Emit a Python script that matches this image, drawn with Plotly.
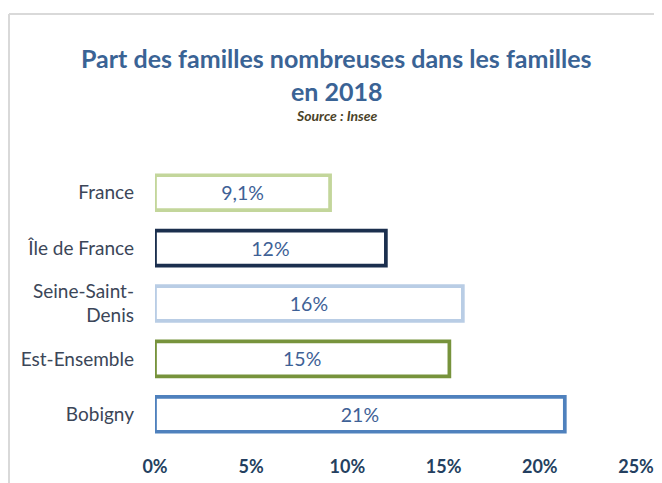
import plotly.graph_objects as go

categories = ["France", "Île de France", "Seine-Saint-<br>Denis", "Est-Ensemble", "Bobigny"]
values = [9.1, 12.0, 16.0, 15.3, 21.3]
value_labels = ["9,1%", "12%", "16%", "15%", "21%"]
outline_colors = ["#c3d69b", "#1b2f4e", "#b9cde5", "#77933c", "#4f81bd"]
tick_values = [0, 5, 10, 15, 20, 25]
tick_labels = ["0%", "5%", "10%", "15%", "20%", "25%"]

FONT = "Lato"

fig = go.Figure(go.Bar(
    x=values,
    y=categories,
    orientation="h",
    text=value_labels,
    textposition="inside",
    insidetextanchor="middle",
    textangle=0,
    textfont=dict(family=FONT, size=19.5, color="#3e6196"),
    marker=dict(color="white", line=dict(color=outline_colors, width=3.7)),
    hoverinfo="skip",
))

fig.update_layout(
    width=654, height=475,
    margin=dict(l=147, r=26, t=157, b=41, autoexpand=False),
    paper_bgcolor="white", plot_bgcolor="white",
    showlegend=False,
    bargap=0.37,
    xaxis=dict(
        range=[0, 25], tickvals=tick_values, ticktext=tick_labels,
        showgrid=False, zeroline=False, showline=False, automargin=False,
        tickfont=dict(family=FONT, size=18, color="#243f60", weight="bold"),
        ticklabelstandoff=12,
    ),
    yaxis=dict(
        autorange="reversed", showgrid=False, zeroline=False, showline=False,
        automargin=False,
        tickfont=dict(family=FONT, size=19, color="#3b4658"),
        ticklabelstandoff=20,
    ),
    annotations=[
        dict(text="<b>Part des familles nombreuses dans les familles</b>",
             xref="paper", yref="paper", x=0.378, y=1.387, showarrow=False,
             xanchor="center", yanchor="middle",
             font=dict(family=FONT, size=25, color="#3a6395")),
        dict(text="<b>en 2018</b>",
             xref="paper", yref="paper", x=0.378, y=1.267, showarrow=False,
             xanchor="center", yanchor="middle",
             font=dict(family=FONT, size=25, color="#3a6395")),
        dict(text="<b><i>Source : Insee</i></b>",
             xref="paper", yref="paper", x=0.378, y=1.177, showarrow=False,
             xanchor="center", yanchor="middle",
             font=dict(family=FONT, size=14, color="#4a4228")),
    ],
    shapes=[
        dict(type="line", xref="paper", yref="paper", x0=-0.3035, x1=1.1,
             y0=1.545, y1=1.545, line=dict(color="#d9d9d9", width=2)),
        dict(type="line", xref="paper", yref="paper", x0=-0.3035, x1=-0.3035,
             y0=1.545, y1=-0.2, line=dict(color="#d9d9d9", width=2)),
    ],
)

fig.write_html("out.html")
